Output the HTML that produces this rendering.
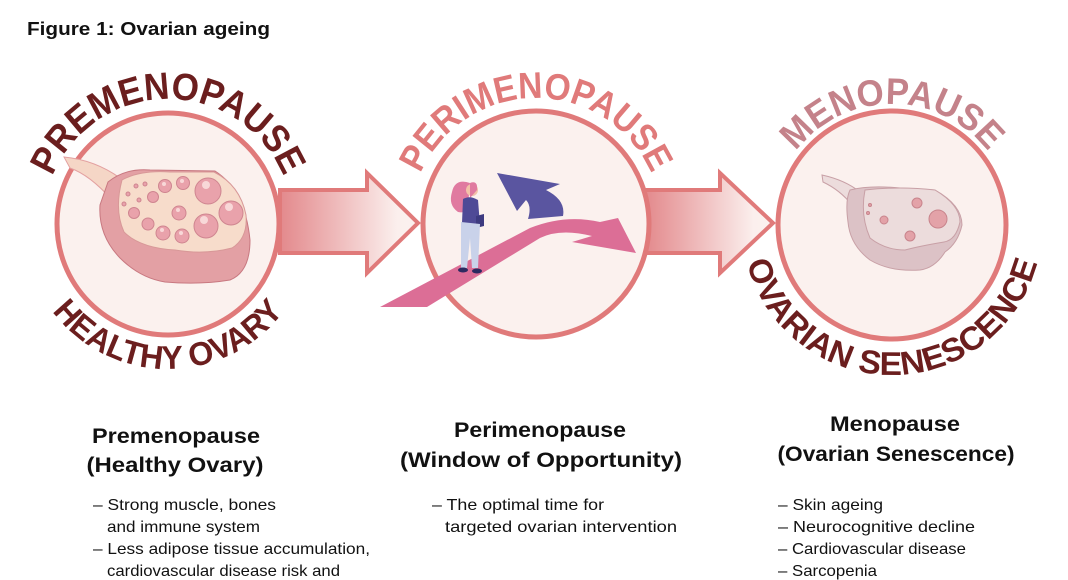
<!DOCTYPE html>
<html><head><meta charset="utf-8"><style>
html,body{margin:0;padding:0;background:#fff;}
svg{display:block;}
.t{font-family:"Liberation Sans",Arial,sans-serif;font-weight:bold;}
.n{font-family:"Liberation Sans Narrow","Liberation Sans",Arial,sans-serif;}
</style></head><body>
<svg width="1068" height="580" viewBox="0 0 1068 580" xmlns="http://www.w3.org/2000/svg">
<defs>
<linearGradient id="g1" x1="0" x2="1" y1="0" y2="0">
<stop offset="0" stop-color="#e3898c"/><stop offset="0.85" stop-color="#fbefed"/><stop offset="1" stop-color="#fbf1ee"/>
</linearGradient>
<path id="a1t" d="M43,224 A125,125 0 0 1 293,224"/>
<path id="a1b" d="M23,224 A145,145 0 0 0 313,224"/>
<path id="a2t" d="M410,224 A126,126 0 0 1 662,224"/>
<path id="a3t" d="M771,225 A121,121 0 0 1 1013,225"/>
<path id="a3b" d="M742,225 A150,150 0 0 0 1042,225"/>
</defs>
<rect width="1068" height="580" fill="#fff"/>
<text x="27" y="35" class="t" font-size="18.5" fill="#111" textLength="243" lengthAdjust="spacingAndGlyphs">Figure 1: Ovarian ageing</text>

<path d="M280,190 L367,190 L367,173 L418,223 L367,273 L367,253 L280,253 Z" fill="url(#g1)" stroke="#e07a7a" stroke-width="4"/>
<path d="M645,190 L720,190 L720,173 L773,223 L720,273 L720,253 L645,253 Z" fill="url(#g1)" stroke="#e07a7a" stroke-width="4"/>

<circle cx="168" cy="224" r="111" fill="#fbf1ee" stroke="#e07a7a" stroke-width="5"/>
<circle cx="536" cy="224" r="113" fill="#fbf1ee" stroke="#e07a7a" stroke-width="5"/>
<circle cx="892" cy="225" r="114" fill="#fbf1ee" stroke="#e07a7a" stroke-width="5"/>

<path d="M64,157 Q95,160 120,178 L112,200 Q90,175 70,168 Z" fill="#f5d6c6" stroke="#e3a0a0" stroke-width="1"/>
<path d="M108,182 Q125,168 150,170 L215,171 Q245,190 250,240 Q250,272 230,280 Q200,285 165,282 Q140,278 120,258 Q98,235 100,205 Z" fill="#e3a0a4" stroke="#c87880" stroke-width="1"/>
<path d="M122,180 Q140,170 170,172 L214,172 Q240,185 246,215 Q248,238 232,248 Q205,255 175,250 Q140,248 124,232 Q114,210 122,180 Z" fill="#f7dccb" stroke="#d89898" stroke-width="1"/>
<g fill="#e9a2ab" stroke="#cf8590" stroke-width="1">
<circle cx="208" cy="191" r="13"/><circle cx="231" cy="213" r="12"/><circle cx="206" cy="226" r="12"/>
<circle cx="165" cy="186" r="6.5"/><circle cx="183" cy="183" r="6.5"/><circle cx="179" cy="213" r="7"/>
<circle cx="153" cy="197" r="5.5"/><circle cx="134" cy="213" r="5.5"/><circle cx="148" cy="224" r="6"/>
<circle cx="163" cy="233" r="7"/><circle cx="182" cy="236" r="7"/>
<circle cx="128" cy="194" r="2"/><circle cx="136" cy="186" r="2"/><circle cx="145" cy="184" r="2"/><circle cx="139" cy="200" r="2"/><circle cx="124" cy="204" r="2"/>
</g>
<g fill="#f8d8d8"><circle cx="206" cy="185" r="4"/><circle cx="229" cy="207" r="4"/><circle cx="204" cy="220" r="4"/><circle cx="164" cy="184" r="2"/><circle cx="182" cy="181" r="2"/><circle cx="178" cy="210" r="2"/><circle cx="162" cy="230" r="2"/><circle cx="181" cy="233" r="2"/></g>

<path d="M380,307 L530,228 Q565,214 600,222 L618,218 L636,253 L572,242 L592,236 Q560,228 540,238 L427,307 Z" fill="#dc6e96"/>
<path d="M497,173 L560,184 L546,190 Q566,200 563,216 L528,219 Q532,206 526,200 L517,211 Z" fill="#5a55a0"/>
<path d="M470,183 Q455,178 452,192 Q448,205 458,212 Q466,214 468,206 Z" fill="#e07aa0"/>
<circle cx="472" cy="190" r="6" fill="#f2c2a8"/>
<path d="M470,183 Q478,180 477,190 L470,198 Z" fill="#e07aa0"/>
<path d="M463,199 Q470,195 478,200 L480,225 L462,223 Z" fill="#4f4a96"/>
<path d="M476,216 l8,-2 l0,12 l-8,2 Z" fill="#3d3a80"/>
<path d="M461,222 L480,224 L478,268 L472,268 L470,238 L467,268 L461,268 Z" fill="#c9d2ea"/>
<ellipse cx="463" cy="270" rx="5" ry="2.5" fill="#2d2a60"/><ellipse cx="477" cy="271" rx="5" ry="2.5" fill="#2d2a60"/>

<path d="M822,175 Q845,180 860,192 L852,205 Q840,190 823,182 Z" fill="#ecdcdc" stroke="#c8a0a6" stroke-width="1"/>
<path d="M850,190 Q870,185 900,188 L935,190 Q962,205 962,225 Q958,243 945,252 Q935,268 920,270 Q890,272 870,260 Q850,245 848,222 Q845,200 850,190 Z" fill="#dcc2c6" stroke="#c8a0a6" stroke-width="1"/>
<path d="M865,190 Q900,186 935,190 Q960,205 960,222 Q956,240 944,242 Q920,246 905,250 Q885,250 870,238 Q860,215 865,190 Z" fill="#ecdcdc" stroke="#c8a0a6" stroke-width="1"/>
<g fill="#e3a2a8" stroke="#c8848c" stroke-width="1">
<circle cx="938" cy="219" r="9"/><circle cx="917" cy="203" r="5"/><circle cx="884" cy="220" r="4"/><circle cx="910" cy="236" r="5"/><circle cx="870" cy="205" r="1.5"/><circle cx="868" cy="213" r="1.5"/>
</g>

<text class="t" font-size="38" fill="#6b1e1e"><textPath href="#a1t" startOffset="50%" text-anchor="middle" textLength="295" lengthAdjust="spacingAndGlyphs">PREMENOPAUSE</textPath></text>
<text class="t" font-size="33" fill="#6b1e1e"><textPath href="#a1b" startOffset="50%" text-anchor="middle" textLength="268" lengthAdjust="spacingAndGlyphs">HEALTHY OVARY</textPath></text>
<text class="t" font-size="37" fill="#e07a7a"><textPath href="#a2t" startOffset="50%" text-anchor="middle" textLength="292" lengthAdjust="spacingAndGlyphs">PERIMENOPAUSE</textPath></text>
<text class="t" font-size="37" fill="#c4828a"><textPath href="#a3t" startOffset="50%" text-anchor="middle" textLength="222" lengthAdjust="spacingAndGlyphs">MENOPAUSE</textPath></text>
<text class="t" font-size="33" fill="#6b1e1e"><textPath href="#a3b" startOffset="50%" text-anchor="middle" textLength="395" lengthAdjust="spacingAndGlyphs">OVARIAN SENESCENCE</textPath></text>

<g class="n" font-weight="bold" font-size="21" fill="#111" text-anchor="middle">
<text x="176" y="443" textLength="168" lengthAdjust="spacingAndGlyphs">Premenopause</text>
<text x="175" y="472" textLength="177" lengthAdjust="spacingAndGlyphs">(Healthy Ovary)</text>
<text x="540" y="437" textLength="172" lengthAdjust="spacingAndGlyphs">Perimenopause</text>
<text x="541" y="467" textLength="282" lengthAdjust="spacingAndGlyphs">(Window of Opportunity)</text>
<text x="895" y="431" textLength="130" lengthAdjust="spacingAndGlyphs">Menopause</text>
<text x="896" y="461" textLength="237" lengthAdjust="spacingAndGlyphs">(Ovarian Senescence)</text>
</g>
<g class="n" font-size="16" fill="#111">
<text x="93" y="510" textLength="183" lengthAdjust="spacingAndGlyphs">– Strong muscle, bones</text>
<text x="107" y="532" textLength="153" lengthAdjust="spacingAndGlyphs">and immune system</text>
<text x="93" y="554" textLength="277" lengthAdjust="spacingAndGlyphs">– Less adipose tissue accumulation,</text>
<text x="107" y="576" textLength="233" lengthAdjust="spacingAndGlyphs">cardiovascular disease risk and</text>
<text x="432" y="510" textLength="172" lengthAdjust="spacingAndGlyphs">– The optimal time for</text>
<text x="445" y="532" textLength="232" lengthAdjust="spacingAndGlyphs">targeted ovarian intervention</text>
<text x="778" y="510" textLength="105" lengthAdjust="spacingAndGlyphs">– Skin ageing</text>
<text x="778" y="532" textLength="197" lengthAdjust="spacingAndGlyphs">– Neurocognitive decline</text>
<text x="778" y="554" textLength="188" lengthAdjust="spacingAndGlyphs">– Cardiovascular disease</text>
<text x="778" y="576" textLength="99" lengthAdjust="spacingAndGlyphs">– Sarcopenia</text>
</g>
</svg>
</body></html>
